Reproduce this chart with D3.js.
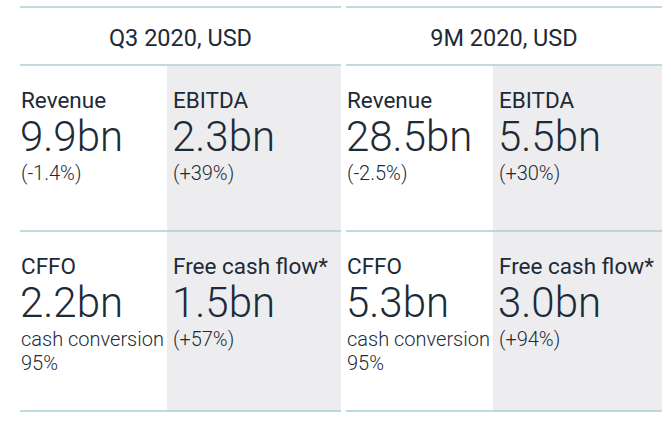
<!DOCTYPE html>
<html>
<head>
<meta charset="utf-8">
<script src="https://cdn.jsdelivr.net/npm/d3@7"></script>
<style>
  html, body { margin: 0; padding: 0; background: #ffffff; }
  svg { display: block; }
  text { font-family: Roboto, "Open Sans", sans-serif; fill: #1d2a38; }
</style>
</head>
<body>
<svg id="chart" width="671" height="423"></svg>
<script>
// ---- data ----
const periods = ["Q3 2020, USD", "9M 2020, USD"];
const metrics = ["Revenue", "EBITDA", "CFFO", "Free cash flow*"];
const values = [
  ["9.9bn", "2.3bn", "2.2bn", "1.5bn"],
  ["28.5bn", "5.5bn", "5.3bn", "3.0bn"]
];
const notes = [
  [["(-1.4%)"], ["(+39%)"], ["cash conversion", "95%"], ["(+57%)"]],
  [["(-2.5%)"], ["(+30%)"], ["cash conversion", "95%"], ["(+94%)"]]
];

// ---- layout ----
const svg = d3.select("#chart");
const lineColor = "#a8cfd5";
const greyFill = "#ededef";

const panelX = d3.scaleOrdinal().domain([0, 1]).range([20, 346]);
const panelW = d3.scaleOrdinal().domain([0, 1]).range([321, 316]);
const rowY = d3.scaleOrdinal().domain([0, 1, 2]).range([65, 231, 411]);
const headerLineY = 7;
const colOffset = 147;

periods.forEach((p, pi) => {
  const x0 = panelX(pi);
  const pw = panelW(pi);
  const g = svg.append("g");
  const split = x0 + colOffset;

  // grey column
  g.append("rect")
    .attr("x", split).attr("y", rowY(0) + 1)
    .attr("width", x0 + pw - split).attr("height", rowY(2) - rowY(0) - 1)
    .attr("fill", greyFill);

  // lines
  [headerLineY, rowY(0), rowY(1), rowY(2)].forEach(y => {
    g.append("line")
      .attr("x1", x0).attr("x2", x0 + pw)
      .attr("y1", y).attr("y2", y)
      .attr("stroke", lineColor).attr("stroke-width", 1.5);
  });

  // header
  g.append("text")
    .attr("x", x0 + pw / 2).attr("y", 46)
    .attr("text-anchor", "middle")
    .style("font-size", "23.5px")
    .text(p);

  metrics.forEach((m, mi) => {
    const col = mi % 2, row = Math.floor(mi / 2);
    const tx = (col === 0 ? x0 + 1 : split + 6);
    const ty = rowY(row);
    g.append("text")
      .attr("x", tx).attr("y", ty + 42.5)
      .style("font-size", "22.5px")
      .text(m);
    g.append("text")
      .attr("x", tx - 1).attr("y", ty + 86)
      .style("font-size", "42px").style("font-weight", 300)
      .text(values[pi][mi]);
    notes[pi][mi].forEach((n, ni) => {
      g.append("text")
        .attr("x", tx).attr("y", ty + 115 + ni * 23.5)
        .style("font-size", "20px").style("font-weight", 300)
        .text(n);
    });
  });
});
</script>
</body>
</html>
